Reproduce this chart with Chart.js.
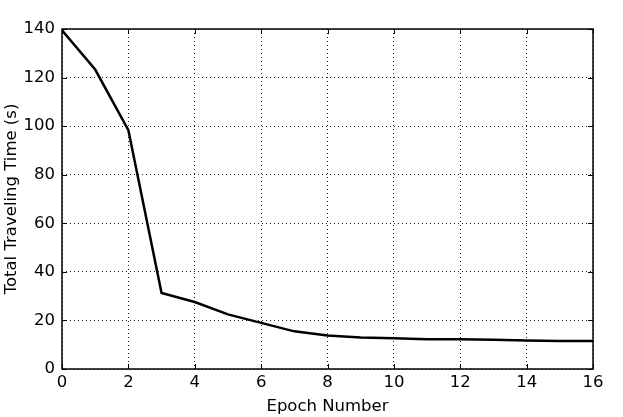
<!DOCTYPE html>
<html>
<head>
<meta charset="utf-8">
<script src="https://cdn.jsdelivr.net/npm/chart.js@4"></script>
<style>
  html, body { margin: 0; padding: 0; background: #fff; }
  #wrap { width: 623px; height: 417px; }
</style>
</head>
<body>
<div id="wrap"><canvas id="chart" width="623" height="417"></canvas></div>
<script>
// values
const epochs = [0, 1, 2, 3, 4, 5, 6, 7, 8, 9, 10, 11, 12, 13, 14, 15, 16];
const travelTimes = [139.5, 123.3, 98.3, 31.3, 27.6, 22.5, 19.0, 15.5, 13.8, 13.0, 12.7, 12.3, 12.3, 12.0, 11.7, 11.5, 11.5];
const xTicks = [0, 2, 4, 6, 8, 10, 12, 14, 16];
const yTicks = [0, 20, 40, 60, 80, 100, 120, 140];

const FONT = 'DejaVu Sans';

// frame + inward tick marks on all four sides, like matplotlib classic
const frameTicks = {
    id: 'frameTicks',
    afterDraw(chart) {
        const { ctx, chartArea: a, scales } = chart;
        const len = 5;
        ctx.save();
        ctx.strokeStyle = '#000';
        ctx.lineWidth = 1;
        ctx.beginPath();
        xTicks.forEach(v => {
            const px = Math.round(scales.x.getPixelForValue(v)) + 0.5;
            ctx.moveTo(px, a.bottom); ctx.lineTo(px, a.bottom - len);
            ctx.moveTo(px, a.top); ctx.lineTo(px, a.top + len);
        });
        yTicks.forEach(v => {
            const py = Math.round(scales.y.getPixelForValue(v)) + 0.5;
            ctx.moveTo(a.left, py); ctx.lineTo(a.left + len, py);
            ctx.moveTo(a.right, py); ctx.lineTo(a.right - len, py);
        });
        ctx.stroke();
        ctx.lineWidth = 1.5;
        ctx.strokeRect(a.left, a.top, a.right - a.left, a.bottom - a.top);
        ctx.restore();
    }
};

new Chart(document.getElementById('chart'), {
    type: 'line',
    data: {
        datasets: [{
            data: epochs.map((e, i) => ({ x: e, y: travelTimes[i] })),
            borderColor: '#000',
            borderWidth: 2.5,
            pointRadius: 0,
            tension: 0,
            fill: false
        }]
    },
    options: {
        responsive: false,
        animation: false,
        layout: { padding: { top: 29, right: 30, left: 2, bottom: 0 } },
        plugins: { legend: { display: false }, tooltip: { enabled: false } },
        scales: {
            x: {
                type: 'linear',
                min: 0, max: 16,
                afterBuildTicks: s => { s.ticks = xTicks.map(v => ({ value: v })); },
                afterFit: s => { s.height = 48; },
                grid: { color: '#222', lineWidth: 1, drawTicks: false },
                border: { display: false, dash: [1, 3] },
                ticks: { color: '#000', padding: 4, font: { family: FONT, size: 16.5 } },
                title: {
                    display: true, text: 'Epoch Number', color: '#000',
                    font: { family: FONT, size: 16.5 }, padding: { top: 1, bottom: 0 }
                }
            },
            y: {
                min: 0, max: 140,
                afterBuildTicks: s => { s.ticks = yTicks.map(v => ({ value: v })); },
                afterFit: s => { s.width = 60; },
                grid: { color: '#222', lineWidth: 1, drawTicks: false },
                border: { display: false, dash: [1, 3] },
                ticks: { color: '#000', padding: 7, font: { family: FONT, size: 16.5 } },
                title: {
                    display: true, text: 'Total Traveling Time (s)', color: '#000',
                    font: { family: FONT, size: 16.5 }, padding: { top: 0, bottom: 0 }
                }
            }
        }
    },
    plugins: [frameTicks]
});
</script>
</body>
</html>
